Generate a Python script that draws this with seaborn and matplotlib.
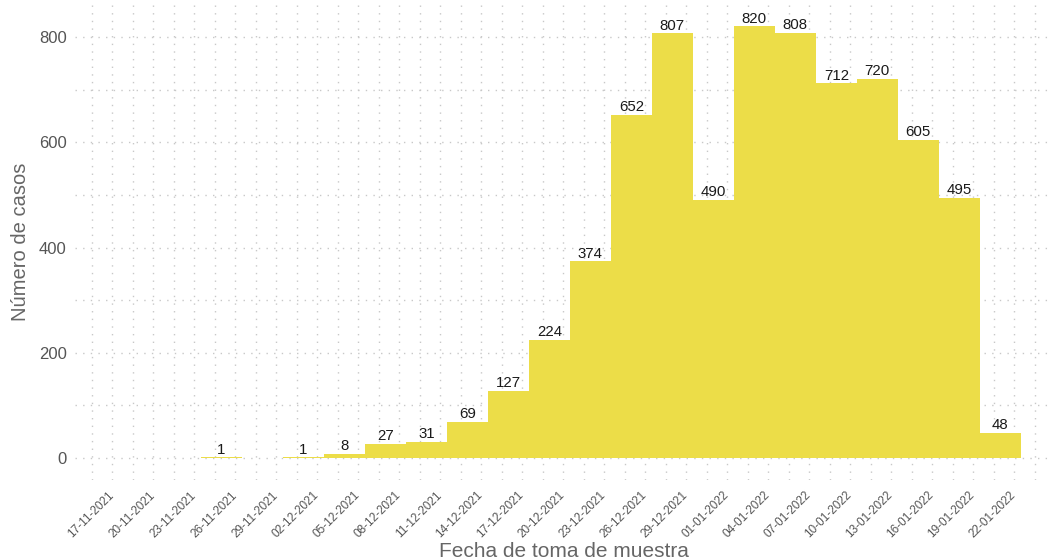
import matplotlib
matplotlib.use("Agg")
import matplotlib.pyplot as plt
import matplotlib.dates as mdates
from matplotlib.ticker import MultipleLocator, FixedLocator
import numpy as np
import pandas as pd
import seaborn as sns

# Casos por intervalo de 3 días (fecha de inicio de cada intervalo)
inicio_intervalo = [
    "2021-11-23", "2021-11-26", "2021-11-29", "2021-12-02", "2021-12-05",
    "2021-12-08", "2021-12-11", "2021-12-14", "2021-12-17", "2021-12-20",
    "2021-12-23", "2021-12-26", "2021-12-29", "2022-01-01", "2022-01-04",
    "2022-01-07", "2022-01-10", "2022-01-13", "2022-01-16", "2022-01-19",
]
casos = [1, 0, 1, 8, 27, 31, 69, 127, 224, 374,
         652, 807, 490, 820, 808, 712, 720, 605, 495, 48]

# Fechas marcadas en el eje x
fechas_eje = [
    "2021-11-17", "2021-11-20", "2021-11-23", "2021-11-26", "2021-11-29",
    "2021-12-02", "2021-12-05", "2021-12-08", "2021-12-11", "2021-12-14",
    "2021-12-17", "2021-12-20", "2021-12-23", "2021-12-26", "2021-12-29",
    "2022-01-01", "2022-01-04", "2022-01-07", "2022-01-10", "2022-01-13",
    "2022-01-16", "2022-01-19", "2022-01-22",
]

sns.set_theme(style="white")
plt.rcParams["font.family"] = ["Liberation Sans", "DejaVu Sans"]

amarillo = "#ECDD48"
gris_rejilla = "#c8c8c8"
gris_texto = "#555555"

# Intervalos de 3 días con bordes a mediodía
inicio_num = mdates.date2num(pd.to_datetime(inicio_intervalo)) + 0.5
bordes = [float(b) for b in np.append(inicio_num, inicio_num[-1] + 3)]
centros = inicio_num + 1.5
df = pd.DataFrame({"fecha": centros, "casos": casos})

fig = plt.figure(figsize=(10.55, 5.6), dpi=100)
W, H = 1055, 560
left_px, right_px, top_px, bottom_px = 75, 1053, 4.9, 479.6
ax = fig.add_axes([left_px / W, 1 - bottom_px / H,
                   (right_px - left_px) / W, (bottom_px - top_px) / H])

sns.histplot(data=df, x="fecha", weights="casos", bins=bordes,
             color=amarillo, alpha=1, linewidth=0, ax=ax, zorder=2)

etiquetas = [str(c) if c > 0 else "" for c in casos]
ax.bar_label(ax.containers[0], labels=etiquetas, padding=0.5,
             fontsize=10.8, color="#1a1a1a")

ticks_x = mdates.date2num(pd.to_datetime(fechas_eje))
x0 = ticks_x[0]
px_dia = (1014 - 112) / 66.0
ax.set_xlim(x0 + (left_px - 112) / px_dia, x0 + (right_px - 112) / px_dia)
ax.set_ylim(-41, 861)

ax.xaxis.set_major_locator(FixedLocator(ticks_x))
ax.xaxis.set_minor_locator(FixedLocator(np.append(ticks_x - 1.5, ticks_x[-1] + 1.5)))
ax.xaxis.set_major_formatter(mdates.DateFormatter("%d-%m-%Y"))
ax.yaxis.set_major_locator(MultipleLocator(200))
ax.yaxis.set_minor_locator(MultipleLocator(100))

for which in ("major", "minor"):
    ax.grid(True, which=which, axis="both", color=gris_rejilla,
            linestyle=(0, (1, 4.5)), linewidth=1.0, zorder=0)
ax.set_axisbelow(True)

for s in ax.spines.values():
    s.set_visible(False)

ax.tick_params(axis="both", which="both", length=0)
ax.tick_params(axis="y", labelsize=12, labelcolor=gris_texto, pad=6)
ax.tick_params(axis="x", labelsize=8.5, labelcolor=gris_texto, pad=10)
for lab in ax.get_xticklabels():
    lab.set_rotation(45)
    lab.set_ha("right")
    lab.set_va("center")
    lab.set_rotation_mode("anchor")

ax.set_xlabel("Fecha de toma de muestra", fontsize=15, color="#666666")
ax.set_ylabel("Número de casos", fontsize=14.5, color="#666666")
ax.xaxis.set_label_coords(0.5, -(542 - bottom_px) / (bottom_px - top_px))
ax.yaxis.set_label_coords(-(left_px - 30) / (right_px - left_px), 0.5)

fig.savefig("out.png", dpi=100)
